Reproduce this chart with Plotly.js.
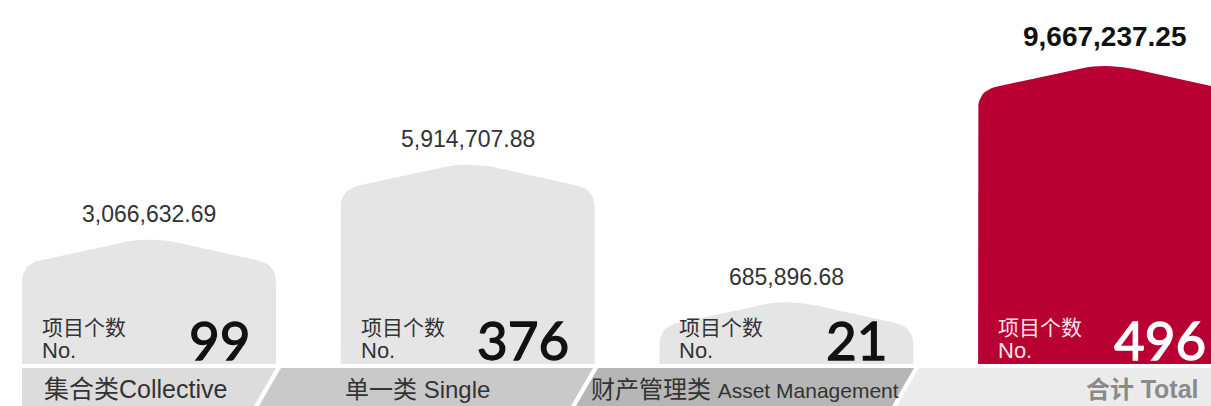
<!DOCTYPE html>
<html>
<head>
<meta charset="utf-8">
<script src="https://cdn.plot.ly/plotly-3.0.1.min.js"></script>
<style>
html,body{margin:0;padding:0;background:#fff;}
#chart{width:1211px;height:406px;}
</style>
</head>
<body>
<div id="chart"></div>
<script>
// ---- data ----
const categories = ['集合类Collective', '单一类 Single', '财产管理类 Asset Management', '合计 Total'];
const amounts = [3066632.69, 5914707.88, 685896.68, 9667237.25];
const counts = [99, 376, 21, 496];
const countLabel = ['项目个数', 'No.'];

// ---- layout geometry (pixels) ----
const W = 1211, H = 406, B = 42;          // bottom margin holds the category band
const plotH = H - B;
const xr = [-149 / 318.7, (W - 149) / 318.7];
const yr = [(317 - plotH) / 26.3 * 1e6, 317 / 26.3 * 1e6];
const xPerPx = (xr[1] - xr[0]) / W;
const yPerPx = (yr[1] - yr[0]) / plotH;

const barColors = ['#e5e5e5', '#e5e5e5', '#e5e5e5', '#b90032'];
const FONT = 'Liberation Sans, Arial, Noto Sans CJK SC, sans-serif';

function quad(p0, c, p1, n) {
  const pts = [];
  for (let k = 1; k <= n; k++) {
    const t = k / n;
    pts.push([
      (1 - t) * (1 - t) * p0[0] + 2 * (1 - t) * t * c[0] + t * t * p1[0],
      (1 - t) * (1 - t) * p0[1] + 2 * (1 - t) * t * c[1] + t * t * p1[1]
    ]);
  }
  return pts;
}

function house(i) {
  const cx = i, top = amounts[i], base = yr[0];
  const hwPx = 127, roofPx = 28, rc = 18, rp = 30;
  const hw = hwPx * xPerPx, rf = roofPx * yPerPx;
  const sh = top - rf;
  const rcx = rc * xPerPx, rcy = rc * yPerPx;
  const rpx = rp * xPerPx;
  const slope = rf / hw;
  const pts = [];
  pts.push([cx - hw, base]);
  pts.push([cx - hw, sh - rcy]);
  pts.push(...quad([cx - hw, sh - rcy], [cx - hw, sh], [cx - hw + rcx, sh + slope * rcx], 8));
  pts.push([cx - rpx, top - slope * rpx]);
  pts.push(...quad([cx - rpx, top - slope * rpx], [cx, top], [cx + rpx, top - slope * rpx], 10));
  pts.push([cx + hw - rcx, sh + slope * rcx]);
  pts.push(...quad([cx + hw - rcx, sh + slope * rcx], [cx + hw, sh], [cx + hw, sh - rcy], 8));
  pts.push([cx + hw, base]);
  pts.push([cx - hw, base]);
  return {
    type: 'scatter', mode: 'lines', fill: 'toself',
    x: pts.map(p => p[0]), y: pts.map(p => p[1]),
    fillcolor: barColors[i], line: {width: 0, color: barColors[i]},
    hoverinfo: 'skip', showlegend: false, name: categories[i]
  };
}

const traces = categories.map((c, i) => house(i));

const py = p => (plotH - p) / plotH;   // pixel row -> paper y
const px = p => p / W;                 // pixel col -> paper x

const annotations = [];
amounts.forEach((v, i) => {
  const last = i === amounts.length - 1;
  annotations.push({
    x: i, y: v, xref: 'x', yref: 'y', yanchor: 'bottom', yshift: last ? 9 : 7,
    text: v.toLocaleString('en-US', {minimumFractionDigits: 2, maximumFractionDigits: 2}),
    showarrow: false,
    font: {family: FONT, size: last ? 28 : 23, color: last ? '#111' : '#333', weight: last ? 700 : 400}
  });
  const txtCol = last ? '#f6e3e8' : '#333';
  annotations.push({
    x: i, xref: 'x', xshift: -109, xanchor: 'left', y: py(327), yref: 'paper', yanchor: 'middle',
    text: countLabel[0], showarrow: false, font: {family: FONT, size: 21, color: txtCol}
  });
  annotations.push({
    x: i, xref: 'x', xshift: -109, xanchor: 'left', y: py(350), yref: 'paper', yanchor: 'middle',
    text: countLabel[1], showarrow: false, font: {family: FONT, size: 22, color: txtCol}
  });
  const numCol = last ? '#ffffff' : '#111111';
  annotations.push({
    x: i, xref: 'x', xshift: 103, xanchor: 'right', y: py(339), yref: 'paper', yanchor: 'middle',
    text: '<span style="stroke:' + numCol + ';stroke-width:1.3px">' + counts[i] + '</span>',
    showarrow: false,
    font: {family: 'Lato, Inter, sans-serif', size: 53, color: numCol}
  });
});

// category band labels: CJK part and Latin part sized separately
const bandText = [
  {x: 135, anchor: 'center', cjk: 25, lat: 25, color: '#333', weight: 400},
  {x: 417, anchor: 'center', cjk: 24, lat: 24, color: '#333', weight: 400},
  {x: 745, anchor: 'center', cjk: 24, lat: 21, color: '#333', weight: 400},
  {x: 1201, anchor: 'right', cjk: 24, lat: 25, color: '#8a8a8a', weight: 700}
];
categories.forEach((c, i) => {
  const m = c.match(/^([^A-Za-z]+)(.*)$/);
  const b = bandText[i];
  const txt = '<span style="font-size:' + b.cjk + 'px">' + m[1] + '</span>' +
              '<span style="font-size:' + b.lat + 'px">' + m[2] + '</span>';
  annotations.push({
    x: px(b.x), xref: 'paper', xanchor: b.anchor,
    y: py(389), yref: 'paper', yanchor: 'middle',
    text: txt, showarrow: false,
    font: {family: FONT, size: b.lat, color: b.color, weight: b.weight}
  });
});

// band segments (parallelograms)
const bandTop = 368, bandBot = 406, lean = 22;
const segs = [
  {l: 22, r: 276, color: '#dcdcdc', vertLeft: true},
  {l: 281, r: 593, color: '#c9c9c9'},
  {l: 598, r: 914, color: '#b6b6b6'},
  {l: 919, r: 1211, color: '#ebebeb', vertRight: true}
];
const shapes = segs.map(s => {
  const tl = [s.l, bandTop], bl = [s.vertLeft ? s.l : s.l - lean, bandBot];
  const tr = [s.r, bandTop], br = [s.vertRight ? s.r : s.r - lean, bandBot];
  const P = p => px(p[0]).toFixed(5) + ',' + py(p[1]).toFixed(5);
  return {
    type: 'path', xref: 'paper', yref: 'paper', layer: 'below',
    path: 'M' + P(bl) + ' L' + P(tl) + ' L' + P(tr) + ' L' + P(br) + ' Z',
    fillcolor: s.color, line: {width: 0}
  };
});

const layout = {
  width: W, height: H,
  margin: {l: 0, r: 0, t: 0, b: B, pad: 0},
  paper_bgcolor: '#ffffff', plot_bgcolor: '#ffffff',
  xaxis: {range: xr, visible: false, fixedrange: true},
  yaxis: {range: yr, visible: false, fixedrange: true},
  showlegend: false,
  annotations: annotations,
  shapes: shapes
};

Plotly.newPlot('chart', traces, layout, {staticPlot: true, displayModeBar: false});
</script>
</body>
</html>
